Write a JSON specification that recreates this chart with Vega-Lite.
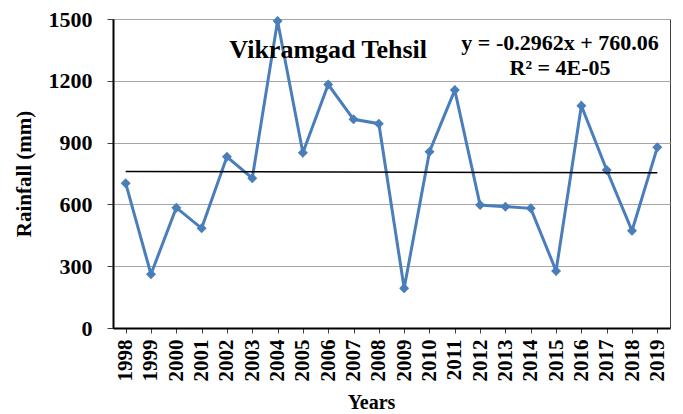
{
  "$schema": "https://vega.github.io/schema/vega-lite/v6.json",
  "width": 557,
  "height": 309,
  "autosize": "none",
  "padding": {"left": 113, "top": 19, "right": 13, "bottom": 86},
  "background": "white",
  "config": {
    "font": "Liberation Serif",
    "view": {"stroke": "#404040", "strokeWidth": 1}
  },
  "datasets": {
    "rain": [
      {"Year": "1998", "Rainfall": 703},
      {"Year": "1999", "Rainfall": 261},
      {"Year": "2000", "Rainfall": 584},
      {"Year": "2001", "Rainfall": 484},
      {"Year": "2002", "Rainfall": 831},
      {"Year": "2003", "Rainfall": 727},
      {"Year": "2004", "Rainfall": 1490},
      {"Year": "2005", "Rainfall": 851},
      {"Year": "2006", "Rainfall": 1182},
      {"Year": "2007", "Rainfall": 1013},
      {"Year": "2008", "Rainfall": 992},
      {"Year": "2009", "Rainfall": 193},
      {"Year": "2010", "Rainfall": 856},
      {"Year": "2011", "Rainfall": 1155},
      {"Year": "2012", "Rainfall": 597},
      {"Year": "2013", "Rainfall": 589},
      {"Year": "2014", "Rainfall": 581},
      {"Year": "2015", "Rainfall": 277},
      {"Year": "2016", "Rainfall": 1079},
      {"Year": "2017", "Rainfall": 767},
      {"Year": "2018", "Rainfall": 472},
      {"Year": "2019", "Rainfall": 877}
    ],
    "trend": [
      {"Year": "1998", "Trend": 759.76},
      {"Year": "2019", "Trend": 753.54}
    ]
  },
  "layer": [
    {
      "data": {"name": "rain"},
      "mark": {"type": "line", "color": "#4a7ebb", "strokeWidth": 3,
        "point": {"shape": "diamond", "size": 100, "filled": true, "color": "#4a7ebb", "opacity": 1}},
      "encoding": {
        "x": {"field": "Year", "type": "ordinal", "sort": null,
          "scale": {"paddingInner": 0, "paddingOuter": 0},
          "axis": {
            "title": "Years", "titleFont": "Liberation Serif", "titleFontSize": 20, "titleFontWeight": "bold", "titleColor": "black",
            "titleX": 258, "titleY": 80, "titleAlign": "center", "titleBaseline": "alphabetic",
            "labelAngle": 270, "labelFont": "Liberation Serif", "labelFontSize": 21, "labelFontWeight": "bold", "labelColor": "black", "labelPadding": 6,
            "domainColor": "black", "domainWidth": 2, "tickColor": "#404040", "tickSize": 5, "grid": false
          }},
        "y": {"field": "Rainfall", "type": "quantitative",
          "scale": {"domain": [0, 1500], "nice": false},
          "axis": {
            "values": [0, 300, 600, 900, 1200, 1500], "format": "d",
            "title": "Rainfall (mm)", "titleFont": "Liberation Serif", "titleFontSize": 21, "titleFontWeight": "bold", "titleColor": "black", "titlePadding": 14,
            "labelFont": "Liberation Serif", "labelFontSize": 22, "labelFontWeight": "bold", "labelColor": "black", "labelPadding": 15,
            "domainColor": "black", "domainWidth": 2, "tickColor": "#404040", "tickSize": 6,
            "grid": true, "gridColor": "#a6a6a6", "gridWidth": 1
          }}
      }
    },
    {
      "data": {"name": "trend"},
      "mark": {"type": "line", "color": "black", "strokeWidth": 1.5},
      "encoding": {
        "x": {"field": "Year", "type": "ordinal", "sort": null},
        "y": {"field": "Trend", "type": "quantitative"}
      }
    },
    {
      "data": {"values": [{}]},
      "mark": {"type": "text", "text": "Vikramgad Tehsil", "font": "Liberation Serif", "fontSize": 26, "fontWeight": "bold", "color": "black", "align": "center", "baseline": "middle"},
      "encoding": {
        "x": {"datum": "2006", "type": "ordinal"},
        "y": {"datum": 1350, "type": "quantitative"}
      }
    },
    {
      "data": {"values": [{}]},
      "mark": {"type": "text", "text": ["y = -0.2962x + 760.06", "R² = 4E-05"], "font": "Liberation Serif", "fontSize": 22, "fontWeight": "bold", "color": "black", "align": "center", "baseline": "middle", "lineHeight": 25, "dx": 4},
      "encoding": {
        "x": {"datum": "2015", "type": "ordinal"},
        "y": {"datum": 1385, "type": "quantitative"}
      }
    }
  ]
}
